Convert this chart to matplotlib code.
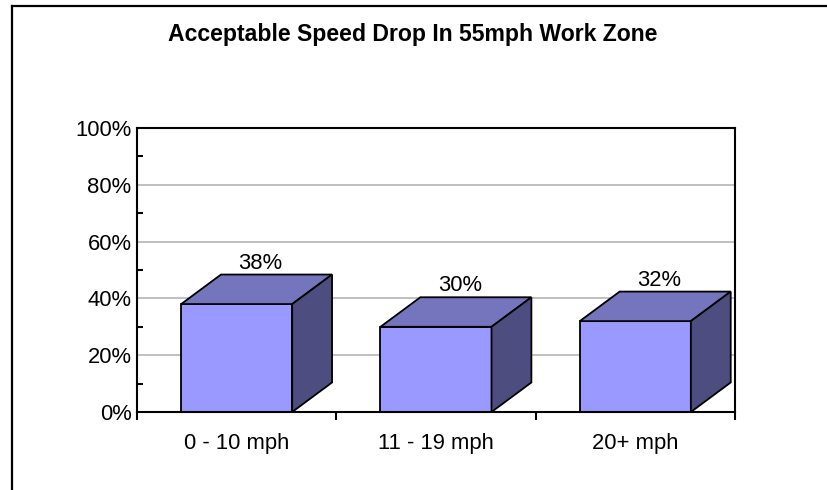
import matplotlib
matplotlib.use('Agg')
import matplotlib.pyplot as plt
from matplotlib.patches import Polygon
from matplotlib.lines import Line2D

plt.rcParams['font.family'] = ['Liberation Sans', 'DejaVu Sans']

# data
categories = ['0 - 10 mph', '11 - 19 mph', '20+ mph']
values = [38, 30, 32]
title = 'Acceptable Speed Drop In 55mph Work Zone'

FRONT = '#9999FF'
TOP = '#7575BD'
SIDE = '#4D4D80'

fig = plt.figure(figsize=(8.28, 4.90), dpi=100)
ax = fig.add_axes([137 / 828, 78 / 490, 598 / 828, 284 / 490])

# outer chart frame (only top and left edges show in the image)
fig.add_artist(Line2D([12 / 828, 12 / 828], [0, 1 - 6 / 490], transform=fig.transFigure, color='black', lw=1.6))
fig.add_artist(Line2D([12 / 828, 1], [1 - 6 / 490, 1 - 6 / 490], transform=fig.transFigure, color='black', lw=1.6))

fig.text(413 / 828, 1 - 41 / 490, title, ha='center', va='baseline', fontsize=16.6, fontweight='bold')

# fake 3D bars
width = 0.557
dx = 0.2     # depth in x (data units)
dy = 10.4    # depth in y (percent units)
xs = [i + 0.5 for i in range(len(categories))]

ax.bar(xs, values, width=width, color=FRONT, edgecolor='black', linewidth=1.3, zorder=3)
for x, v in zip(xs, values):
    l, r = x - width / 2, x + width / 2
    top = Polygon([(l, v), (l + dx, v + dy), (r + dx, v + dy), (r, v)], closed=True,
                  facecolor=TOP, edgecolor='black', linewidth=1.3, zorder=3)
    side = Polygon([(r, 0), (r + dx, dy), (r + dx, v + dy), (r, v)], closed=True,
                   facecolor=SIDE, edgecolor='black', linewidth=1.3, zorder=3)
    ax.add_patch(top)
    ax.add_patch(side)
    ax.text(x + 0.12, v + dy + 2.1, '%d%%' % v, ha='center', va='baseline', fontsize=15.8, zorder=4)

ax.set_xlim(0, 3)
ax.set_ylim(0, 100)

ax.set_yticks([0, 20, 40, 60, 80, 100])
ax.set_yticklabels(['%d%%' % t for t in [0, 20, 40, 60, 80, 100]], fontsize=15.8)
ax.set_yticks([10, 30, 50, 70, 90], minor=True)
ax.tick_params(axis='y', which='major', length=0, pad=4)
ax.tick_params(axis='y', which='minor', direction='in', length=4.5, width=1.5)

ax.set_xticks([0, 1, 2, 3])
ax.set_xticklabels([])
ax.set_xticks(xs, minor=True)
ax.set_xticklabels(categories, minor=True, fontsize=15.8)
ax.tick_params(axis='x', which='major', direction='out', length=6, width=1.5)
ax.tick_params(axis='x', which='minor', length=0, pad=15)

for y in [20, 40, 60, 80]:
    ax.axhline(y, color='#C0C0C0', lw=1.4, zorder=1)

for s in ax.spines.values():
    s.set_linewidth(1.5)
    s.set_zorder(5)

fig.savefig('out.png', dpi=100)
